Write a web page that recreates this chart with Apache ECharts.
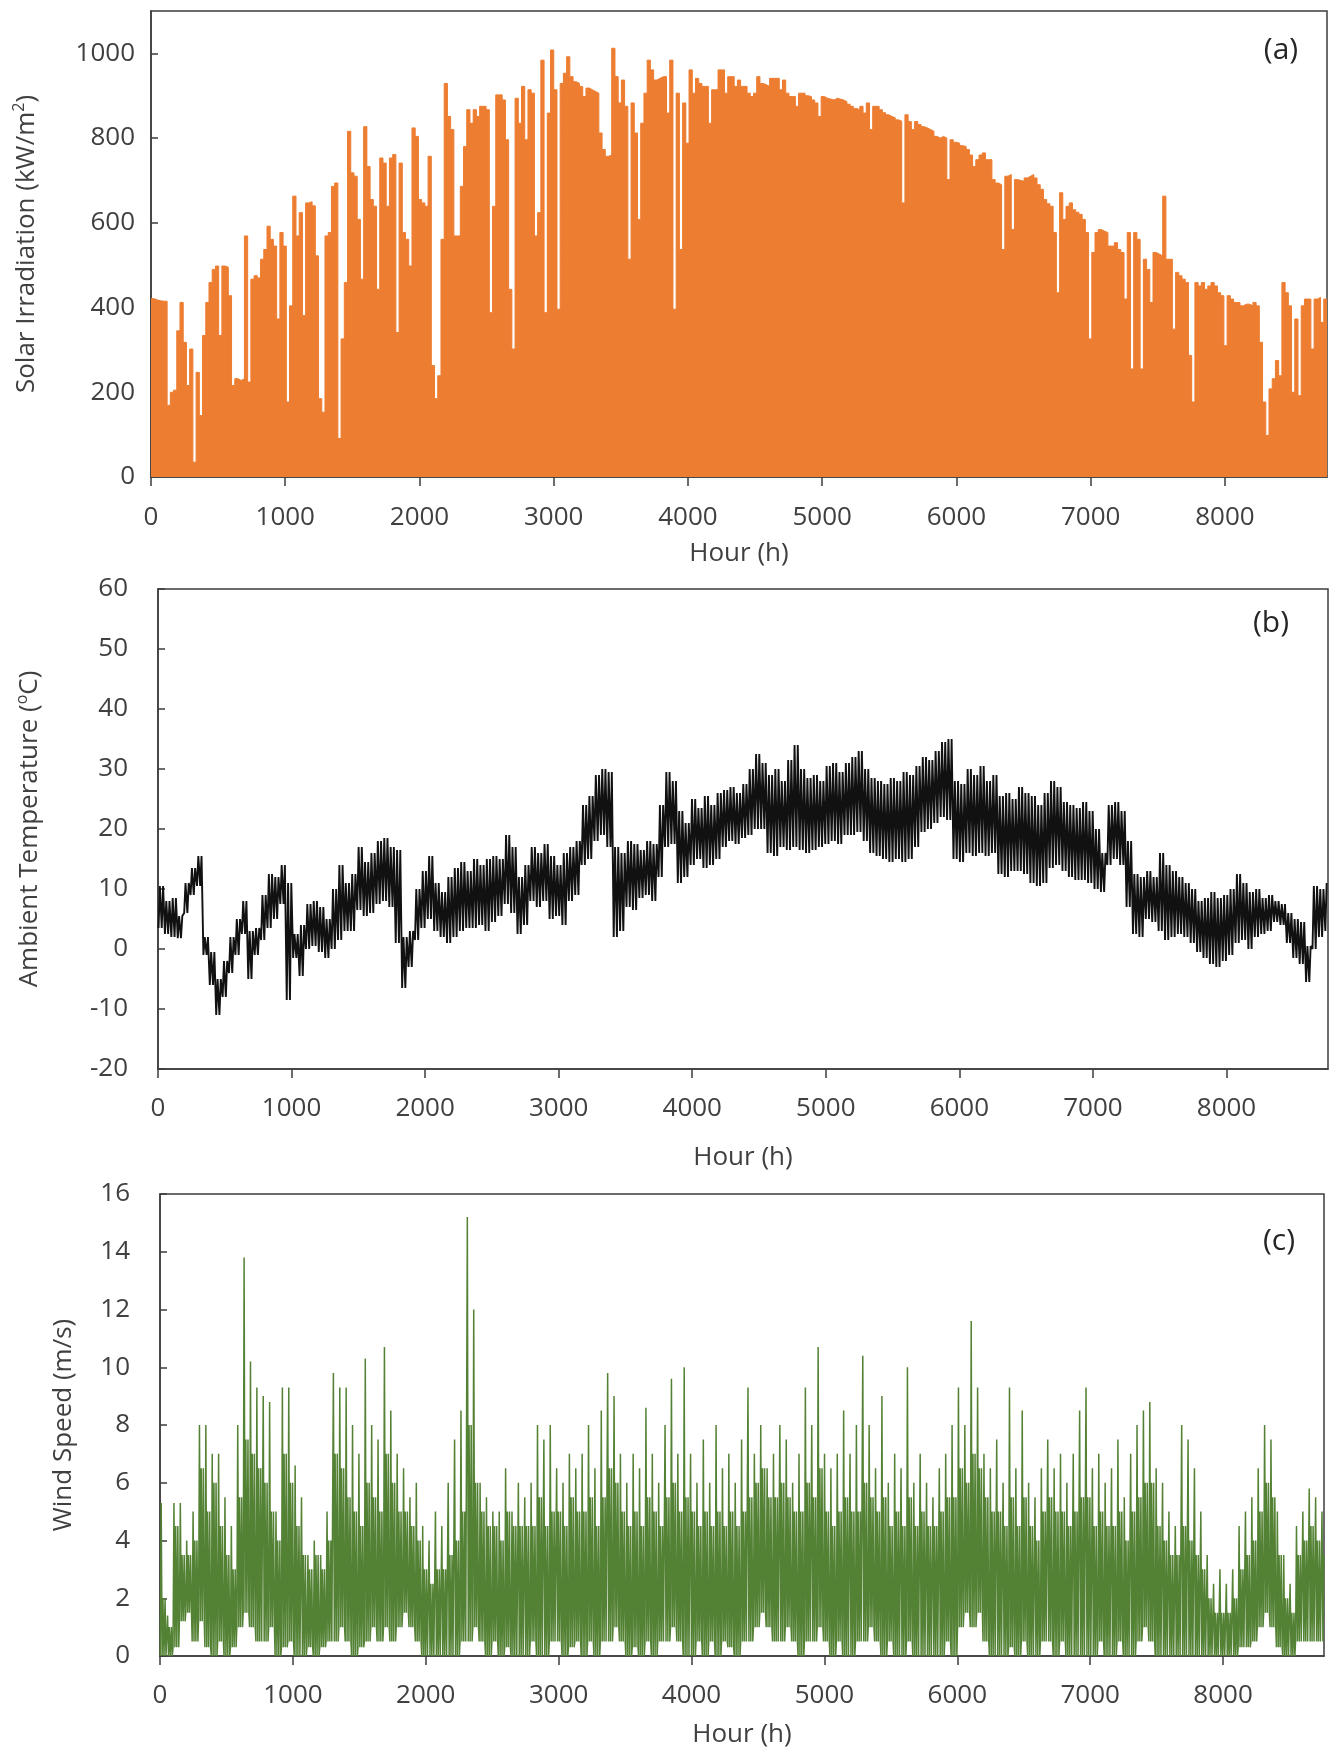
<!DOCTYPE html>
<html>
<head>
<meta charset="utf-8">
<title>Hourly weather data</title>
<script src="https://cdn.jsdelivr.net/npm/echarts@6.0.0/dist/echarts.min.js"></script>
<style>
  html, body { margin: 0; padding: 0; background: #fff; }
  #chart { width: 1338px; height: 1753px; }
</style>
</head>
<body>
<div id="chart"></div>
<script>
// Daily peak solar irradiation (kW/m2), one value per day (365 days)
const solarDaily = [
  421,418,416,415,415,169,200,205,345,412,
  318,216,302,35,247,145,334,412,459,490,
  498,334,498,495,428,216,232,228,232,569,
  224,467,475,470,514,537,592,561,545,373,
  577,545,177,404,663,569,624,381,647,650,
  640,522,185,153,569,577,686,694,91,326,
  459,816,718,710,608,467,827,733,655,639,
  443,753,741,639,753,761,341,741,577,561,
  498,824,804,655,647,639,757,263,185,239,
  561,929,851,820,569,569,686,780,867,835,
  867,851,875,875,867,388,639,902,902,890,
  796,443,302,894,835,922,796,914,906,569,
  624,984,388,859,1008,914,396,929,953,992,
  945,933,929,922,898,918,914,910,906,812,
  773,757,760,1012,945,883,937,875,514,883,
  812,608,835,906,984,961,937,941,945,945,
  859,984,396,906,537,883,788,961,906,941,
  929,922,922,835,914,914,961,961,906,945,
  945,922,937,922,922,906,898,906,945,929,
  926,922,941,941,941,914,937,906,898,898,
  875,906,906,900,898,890,883,851,898,894,
  892,890,894,892,890,886,880,875,870,867,
  875,859,883,820,875,875,867,860,855,851,
  848,843,840,647,855,839,820,839,832,827,
  824,820,816,804,800,804,800,702,796,790,
  788,782,780,773,760,733,749,760,765,749,
  749,702,694,690,537,710,714,584,702,700,
  698,706,710,714,706,690,679,655,645,639,
  577,435,671,608,639,647,631,625,620,608,
  577,326,530,577,584,580,577,545,545,553,
  537,530,420,577,255,577,561,255,514,490,
  412,530,526,522,663,514,514,349,483,475,
  467,459,287,177,459,451,459,443,451,459,
  451,435,428,310,428,420,412,412,404,408,
  408,404,412,404,318,177,98,208,232,275,
  239,459,435,404,200,373,192,404,420,420,
  302,420,424,365,420
];

// Ambient temperature (degC), daily high / low band, one value per 2-day block
const tempHigh = [
  10.5,8,8.5,5.5,11,13.5,15.5,2,-0.5,-5,
  -2,2,5,8,3,3.5,9,12.5,12,14,
  11,2.5,4,7.5,8,7,5,10,14,11,
  12.5,17,14.5,16,18,18.5,17,16.5,2,3,
  10,13,15.5,11,9.5,12,13.5,14.5,13,15,
  14,15,15.5,15,19,17,12,14,17,16,
  17.5,15.5,14,16,17,18,24,25.5,29,30,
  29.5,17,16,18,17.5,16.5,18,17.5,24,29.5,
  28,23,21,25,23.5,25.5,24,26,26.5,27,
  26,27.5,30,32.5,31,29,30,28,31.5,34,
  30,28.5,29,28,30.5,31,29.5,31,32,33,
  30,28.5,28,27.5,28.5,28,29.5,29,30.5,32,
  31.5,33,34.5,35,28,27.5,30,29,30.5,28,
  29,25.5,26,25,27,26,25.5,24,26,28,
  27,24.5,24,23.5,24.5,23,20,16,24,24.5,
  23,18,12.5,12,13,12,16,14,13,12,
  11,10,8,8.5,9.5,8.5,9,10,12.5,11,
  9.5,10,8.5,9,8,7.5,6,5,4.5,0.5,
  10.5,10,11
];
const tempLow = [
  3.5,2.5,2,1.8,6,9,10.5,-1,-6,-11,
  -8,-4,-1,2.5,-5,-1,1.5,3.5,5,7.5,
  -8.5,-1.5,-4.5,0,0.5,-0.5,-1.5,0,1.5,3,
  3,6.5,5.5,6,7.5,8,7,1,-6.5,-3,
  1.5,3.5,5,3,2,1,2,3,3.5,3.5,
  4,3,4.5,5.5,7.5,6,2.5,4,8,7,
  8,5,5.5,4,8,9,14,15,18,19,
  17,2,3,7,6.5,8.5,9,8,12,17,
  17.5,11,12,14,15,13.5,14,15,17,18,
  17.5,18.5,19,20,20,16,15.5,17,16.5,17,
  16.5,16,16.5,17,17.5,18,17.5,19,19,19.5,
  18,16,15.5,15,14.5,15,14.5,15,17,19.5,
  20,21,22,21.5,15,14.5,16,15.5,16,15.5,
  16,12.5,12,13,13,12.5,11,10.5,11,13.5,
  14,13,12,11.5,11.5,11,10,9.5,14,15,
  14,7,2.5,2,5,4.5,3,1.5,2,2.5,
  2,1,-0.5,-1.5,-2.5,-3,-2,-1,1,1.5,
  0,2,2.5,3,4.5,4,1,-1.5,-2.5,-5.5,
  0,2,3
];

// Wind speed (m/s) per 2-day block: spike peak, upper edge of dense band, lower edge
const windHigh = [
  5.3,1.4,5.3,5.3,4,5,8,8,7,7,
  5.5,4.5,8,13.8,10.2,9.3,9,8.8,5,9.3,
  9.3,6.6,5.5,3.5,4,3.5,5,9.8,9.3,9.3,
  8,7,10.3,8,7.5,10.7,8.5,7,6.5,5.5,
  6,4.5,4,5,4.5,6,7.5,8.5,15.2,12,
  6,5.5,5,5,6.5,5,6,5.5,6,8,
  7.5,8,6.5,6,7,6.5,7,8,6.5,8.5,
  9.8,9,7,6,7,6.5,8.6,7,6,8,
  9.6,7,10,7,6,7.5,6,8,6.5,7,
  6,7.5,9.3,7,8,6.5,7,8,7.5,6,
  7,9.3,8,10.7,7,6.5,7,8.5,7,8,
  10.4,8,6.5,9,6,7,6.5,10,6,7,
  6,5.5,6.5,7,8,9.3,8,11.6,9.3,7,
  6.5,7.5,6,9.3,6.5,8.5,6,5.5,6.5,7.5,
  6.5,7,6,7,8.5,9.3,6.5,7,6,6.5,
  7.5,5.5,7,8,8.5,8.8,6.5,6,5,4.5,
  8,7.5,6.5,5,3.5,2.5,3,2.5,3,4.5,
  5,5.5,6.5,8,7.5,5,3.5,2.5,4.5,5,
  5.8,5.5,5
];
const windBand = [
  2,1,4.5,3.5,3.5,4,6.5,5,6,4.5,
  3.5,3,5.5,7.5,7,6.5,6,5,4,7,
  6,4.5,3.5,3,3.5,3,4,7,6.5,5.5,
  5,4.5,6,5.5,5,7,6,5,5,4.5,
  4,3,2.5,3,3,3.5,4,5,8,6,
  5,4.5,4.5,4,5,4.5,4.5,4.5,4.5,5.5,
  4.5,5,5,4.5,5.5,5,5,5.5,4.5,5.5,
  6.5,6,5,4.5,5,4.5,5.5,5,4.5,5.5,
  6,5,5.5,5,4.5,5,4.5,5,4.5,5,
  4.5,5,5.5,6,6.5,5.5,5.5,6,5.5,5,
  5,6,5.5,6.5,5,4.5,5,5.5,5,5,
  6,5.5,5,5.5,4.5,5,4.5,5.5,4.5,5,
  4.5,4.5,5,5.5,5.5,6.5,6,7,6.5,5.5,
  5,5,4.5,5.5,4.5,5.5,4.5,4,5,5.5,
  5,5,4.5,5,5.5,5.5,4.5,5,4.5,4.5,
  5,4,5,5.5,6,6,4.5,4,3.5,3.5,
  4.5,4,3.5,3,2,1.5,1.5,1.5,2,3,
  3.5,4,5,6,5.5,3.5,2,1.5,3.5,4,
  4.5,4,3.5
];
const windLow = [
  0,0,0.3,1.2,1.5,0.5,1.2,0.3,0,0.5,
  0,0.3,1,1.5,1,0.5,0.5,1,0,0.3,
  0.5,0,0,0.3,0,0.3,0.5,0.5,1,0.5,
  0,0.3,0.5,1,0.5,1,0.5,1,1.5,1,
  0.5,0,0,0,0,0,0,0.5,0.5,1,
  0.5,0,0.5,0,0.3,0,0,0,0.5,0,
  0,0.5,0.5,0,0.3,0.5,0,0.5,0,0.5,
  0.5,1,0.5,0,0.3,0,0.5,0,0.5,0.5,
  1,0.5,0,0,0.5,0,0.5,0,0.5,0.3,
  0,0.5,0.5,1,1.5,1,0.5,0.5,1,0.5,
  0,0.5,0.5,1,0.5,0,0.5,0,0,0.5,
  0.5,1,0.5,0,0.5,0,0,0.5,0,0,
  0,0,0,0.5,0,1,1.5,1,1.5,0.5,
  0,0,0,0.3,0,0.5,0,0,0.5,0.5,
  0,0.5,0,0,0,0,0,0.5,0,0,
  0.5,0,0,0.5,1,0.5,0,0,0,0,
  0,0,0,0,0,0,0,0,0,0.3,
  0.3,0.5,1,1.5,1,0.3,0,0,0.5,0.5,
  0.5,0.5,0.5
];

const HOURS = 8760;
const FONT = '"Open Sans", "Noto Sans", sans-serif';
const TEXT_COLOR = '#404040';
const AXIS_COLOR = '#3c3c3c';

// daily step area: value held for the whole day
const solarData = solarDaily.map((v, d) => [d * 24, v]);
solarData.push([HOURS, solarDaily[solarDaily.length - 1]]);

// temperature: two daily swings per 2-day block
const tempData = [];
tempHigh.forEach((hi, i) => {
  const t = i * 48;
  const lo = tempLow[i];
  [[4, lo], [14, hi], [28, lo], [38, hi]].forEach(([dt, v]) => {
    if (t + dt <= HOURS) tempData.push([t + dt, v]);
  });
});

// wind: one spike and two band swings per 2-day block
const windData = [];
windHigh.forEach((hi, i) => {
  const t = i * 48;
  const lo = windLow[i];
  const band = windBand[i];
  [[2, lo], [9, hi], [16, lo], [22, band], [30, lo], [38, band], [45, lo]].forEach(([dt, v]) => {
    if (t + dt <= HOURS) windData.push([t + dt, v]);
  });
});

const plainNumber = (v) => String(v);

function xAxis(gridIndex, labelMargin, nameGap) {
  return {
    type: 'value',
    gridIndex: gridIndex,
    min: 0,
    max: HOURS,
    interval: 1000,
    name: 'Hour (h)',
    nameLocation: 'middle',
    nameGap: nameGap,
    nameTextStyle: { fontFamily: FONT, fontSize: 26, color: TEXT_COLOR },
    axisLine: { show: true, onZero: false, lineStyle: { color: AXIS_COLOR, width: 1.5 } },
    axisTick: { show: true, inside: false, length: 9, lineStyle: { color: AXIS_COLOR, width: 1.5 } },
    axisLabel: {
      margin: labelMargin,
      fontFamily: FONT,
      fontSize: 26,
      color: TEXT_COLOR,
      showMaxLabel: false,
      formatter: plainNumber
    },
    splitLine: { show: false }
  };
}

function yAxis(gridIndex, min, max, interval, name, nameGap, labelMargin, rich) {
  return {
    type: 'value',
    gridIndex: gridIndex,
    min: min,
    max: max,
    interval: interval,
    name: name,
    nameLocation: 'middle',
    nameGap: nameGap,
    nameTextStyle: {
      fontFamily: FONT,
      fontSize: 26,
      color: TEXT_COLOR,
      lineHeight: 32,
      rich: rich || {}
    },
    axisLine: { show: true, onZero: false, lineStyle: { color: AXIS_COLOR, width: 1.5 } },
    axisTick: { show: true, inside: true, length: 7, lineStyle: { color: AXIS_COLOR, width: 1.5 } },
    axisLabel: {
      margin: labelMargin,
      fontFamily: FONT,
      fontSize: 26,
      color: TEXT_COLOR,
      showMaxLabel: max % interval === 0,
      formatter: plainNumber
    },
    splitLine: { show: false }
  };
}

const supStyle = {
  sup: { fontFamily: FONT, fontSize: 16, lineHeight: 14, verticalAlign: 'top', color: TEXT_COLOR }
};

const gridStyle = { show: true, borderColor: AXIS_COLOR, borderWidth: 1.5, backgroundColor: 'transparent' };

const option = {
  animation: false,
  backgroundColor: '#ffffff',
  grid: [
    Object.assign({ left: 151, top: 11, width: 1176, height: 466 }, gridStyle),
    Object.assign({ left: 158, top: 589, width: 1170, height: 480 }, gridStyle),
    Object.assign({ left: 160, top: 1194, width: 1164, height: 462 }, gridStyle)
  ],
  xAxis: [
    xAxis(0, 28, 64),
    xAxis(1, 27, 76),
    xAxis(2, 27, 66)
  ],
  yAxis: [
    yAxis(0, 0, 1100, 200, 'Solar Irradiation (kW/m{sup|2})', 108, 16, supStyle),
    yAxis(1, -20, 60, 10, 'Ambient Temperature ({sup|o}C)', 112, 30, supStyle),
    yAxis(2, 0, 16, 2, 'Wind Speed (m/s)', 80, 30)
  ],
  series: [
    {
      name: 'Solar Irradiation',
      type: 'line',
      xAxisIndex: 0,
      yAxisIndex: 0,
      step: 'end',
      showSymbol: false,
      data: solarData,
      lineStyle: { color: '#ED7D31', width: 1 },
      areaStyle: { color: '#ED7D31', opacity: 1 },
      z: 1
    },
    {
      name: 'Ambient Temperature',
      type: 'line',
      xAxisIndex: 1,
      yAxisIndex: 1,
      showSymbol: false,
      data: tempData,
      lineStyle: { color: '#111111', width: 1.9 }
    },
    {
      name: 'Wind Speed',
      type: 'line',
      xAxisIndex: 2,
      yAxisIndex: 2,
      showSymbol: false,
      data: windData,
      lineStyle: { color: '#548235', width: 1.5 }
    }
  ],
  graphic: [
    { type: 'text', x: 1281, y: 50, style: { text: '(a)', font: '30px ' + FONT, fill: '#262626', align: 'center', verticalAlign: 'middle' } },
    { type: 'text', x: 1271, y: 623, style: { text: '(b)', font: '30px ' + FONT, fill: '#262626', align: 'center', verticalAlign: 'middle' } },
    { type: 'text', x: 1279, y: 1241, style: { text: '(c)', font: '30px ' + FONT, fill: '#262626', align: 'center', verticalAlign: 'middle' } }
  ]
};

const chart = echarts.init(document.getElementById('chart'), null, { renderer: 'canvas' });
chart.setOption(option);
</script>
</body>
</html>
